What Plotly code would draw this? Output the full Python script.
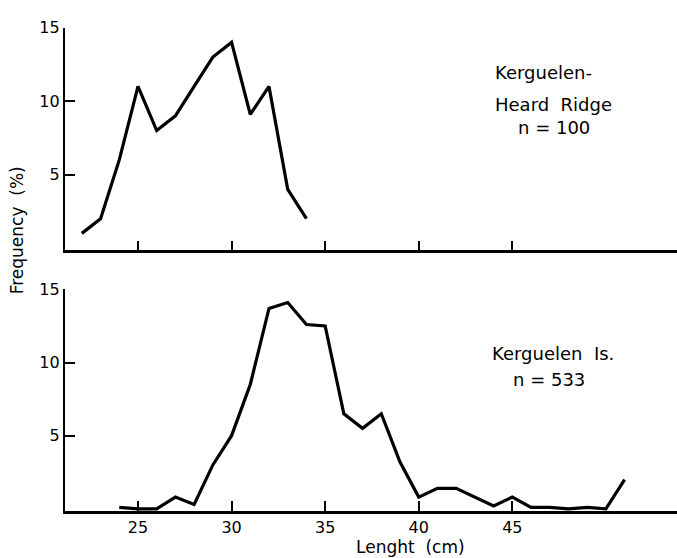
import plotly.graph_objects as go
from plotly.subplots import make_subplots

# Top panel: Kerguelen-Heard Ridge (n = 100)
len_top = [22, 23, 24, 25, 26, 27, 28, 29, 30, 31, 32, 33, 34]
freq_top = [1, 2, 6, 11, 8, 9, 11, 13, 14, 9.1, 11, 4, 2]

# Bottom panel: Kerguelen Is. (n = 533)
len_bot = [24, 25, 26, 27, 28, 29, 30, 31, 32, 33, 34, 35, 36, 37, 38, 39, 40,
           41, 42, 43, 44, 45, 46, 47, 48, 49, 50, 51]
freq_bot = [0.1, 0, 0, 0.8, 0.3, 3, 5, 8.5, 13.7, 14.1, 12.6, 12.5, 6.5, 5.5, 6.5,
            3.2, 0.8, 1.4, 1.4, 0.8, 0.2, 0.8, 0.1, 0.1, 0, 0.1, 0, 2]

x_ticks = [25, 30, 35, 40, 45]
y_ticks = [5, 10, 15]

W, H = 677, 558
FONT = "DejaVu Sans"

fig = make_subplots(rows=2, cols=1)
fig.add_trace(go.Scatter(x=len_top, y=freq_top, mode="lines",
                         line=dict(color="black", width=3.2)), row=1, col=1)
fig.add_trace(go.Scatter(x=len_bot, y=freq_bot, mode="lines",
                         line=dict(color="black", width=3.2)), row=2, col=1)

ymin = -0.15
def dom(y0px, y15px):
    ppu = (y0px - y15px) / 15.0
    bottom_px = y0px - ymin * ppu
    return [(H - bottom_px) / H, (H - y15px) / H]

xr = [21.1, 53.8]
common_x = dict(range=xr, tickvals=x_ticks, ticks="inside", ticklen=10, tickwidth=1.8,
                tickcolor="black", showline=True, linecolor="black", linewidth=2.5,
                showgrid=False, zeroline=False, domain=[0, 1],
                tickfont=dict(family=FONT, size=16, color="black"))
common_y = dict(range=[ymin, 15], tickvals=y_ticks, ticks="inside", ticklen=10, tickwidth=1.8,
                tickcolor="black", showline=True, linecolor="black", linewidth=2.2,
                showgrid=False, zeroline=False,
                tickfont=dict(family=FONT, size=16, color="black"))

fig.update_xaxes(**common_x)
fig.update_xaxes(showticklabels=False, row=1, col=1)
fig.update_yaxes(**common_y)
fig.update_yaxes(domain=dom(243, 19), row=1, col=1)
fig.update_yaxes(domain=dom(508, 285), row=2, col=1)

def px_x(p):
    return (p - 65) / (W - 65)

def px_y(p):
    return (H - p) / H

ann = []
def txt(s, x, y, size=18, xanchor="left", yanchor="middle", angle=0):
    ann.append(dict(text=s, x=x, y=y, xref="paper", yref="paper", xanchor=xanchor,
                    yanchor=yanchor, showarrow=False, textangle=angle, borderpad=0,
                    font=dict(family=FONT, size=size, color="black")))

txt("Kerguelen-", px_x(494), px_y(65))
txt("Heard  Ridge", px_x(494), px_y(97))
txt("n = 100", px_x(517), px_y(120))
txt("Kerguelen  Is.", px_x(491), px_y(350))
txt("n = 533", px_x(512), px_y(377))
txt("Lenght  (cm)", px_x(410), px_y(558), size=17, xanchor="center", yanchor="bottom")
txt("Frequency  (%)", px_x(17), px_y(225), size=17, xanchor="center", angle=-90)
fig.update_layout(annotations=ann)

fig.update_layout(width=W, height=H, margin=dict(l=65, r=0, t=0, b=0),
                  plot_bgcolor="white", paper_bgcolor="white", showlegend=False)

fig.write_html("out.html")
